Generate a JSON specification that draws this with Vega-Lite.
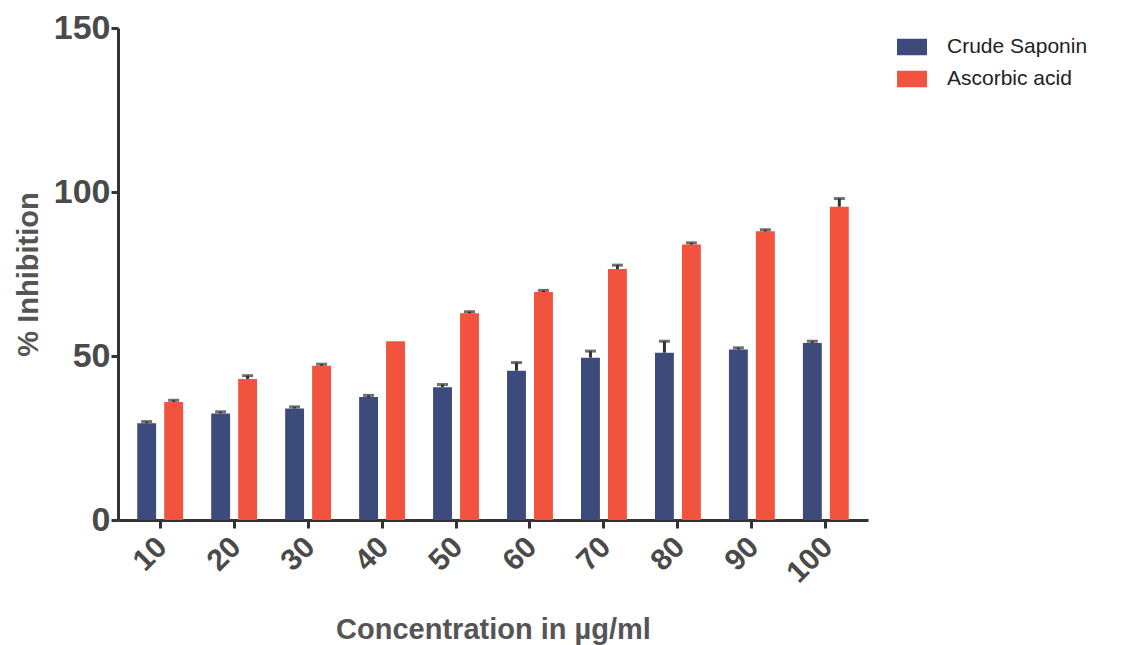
{
  "$schema": "https://vega.github.io/schema/vega-lite/v6.json",
  "width": 750,
  "height": 492,
  "autosize": "none",
  "padding": {"left": 118, "top": 28, "right": 254, "bottom": 125},
  "background": "white",
  "data": {
    "values": [
      {"conc": "10", "group": "Crude Saponin", "value": 29.5, "upper": 30.0},
      {"conc": "10", "group": "Ascorbic acid", "value": 36.0, "upper": 36.5},
      {"conc": "20", "group": "Crude Saponin", "value": 32.5, "upper": 33.0},
      {"conc": "20", "group": "Ascorbic acid", "value": 43.0, "upper": 44.0},
      {"conc": "30", "group": "Crude Saponin", "value": 34.0, "upper": 34.5},
      {"conc": "30", "group": "Ascorbic acid", "value": 47.0, "upper": 47.5},
      {"conc": "40", "group": "Crude Saponin", "value": 37.5, "upper": 38.0},
      {"conc": "40", "group": "Ascorbic acid", "value": 54.5, "upper": null},
      {"conc": "50", "group": "Crude Saponin", "value": 40.5, "upper": 41.3},
      {"conc": "50", "group": "Ascorbic acid", "value": 63.0, "upper": 63.5},
      {"conc": "60", "group": "Crude Saponin", "value": 45.5, "upper": 48.0},
      {"conc": "60", "group": "Ascorbic acid", "value": 69.5, "upper": 70.0},
      {"conc": "70", "group": "Crude Saponin", "value": 49.5, "upper": 51.5},
      {"conc": "70", "group": "Ascorbic acid", "value": 76.5, "upper": 77.7},
      {"conc": "80", "group": "Crude Saponin", "value": 51.0, "upper": 54.5},
      {"conc": "80", "group": "Ascorbic acid", "value": 84.0, "upper": 84.5},
      {"conc": "90", "group": "Crude Saponin", "value": 52.0, "upper": 52.5},
      {"conc": "90", "group": "Ascorbic acid", "value": 88.0, "upper": 88.5},
      {"conc": "100", "group": "Crude Saponin", "value": 54.0, "upper": 54.5},
      {"conc": "100", "group": "Ascorbic acid", "value": 95.5, "upper": 98.0}
    ]
  },
  "encoding": {
    "x": {
      "field": "conc",
      "type": "ordinal",
      "sort": ["10", "20", "30", "40", "50", "60", "70", "80", "90", "100"],
      "scale": {"paddingInner": 0.38, "paddingOuter": 0.26},
      "axis": {
        "title": "Concentration in µg/ml",
        "titleFont": "Liberation Sans",
        "titleFontSize": 29,
        "titleFontWeight": "bold",
        "titleColor": "#555555",
        "titlePadding": 28,
        "labelFont": "Liberation Sans",
        "labelFontSize": 30,
        "labelFontWeight": "bold",
        "labelColor": "#4a4a4a",
        "labelAngle": -45,
        "labelAlign": "right",
        "labelBaseline": "middle",
        "labelPadding": 14,
        "labelOffset": 2,
        "domainColor": "#333333",
        "domainWidth": 3,
        "tickColor": "#333333",
        "tickWidth": 3,
        "tickSize": 8,
        "grid": false
      }
    },
    "xOffset": {
      "field": "group",
      "type": "nominal",
      "sort": ["Crude Saponin", "Ascorbic acid"],
      "scale": {"paddingInner": 0.3, "paddingOuter": 0}
    }
  },
  "layer": [
    {
      "mark": {"type": "bar", "cornerRadius": 0},
      "encoding": {
        "y": {
          "field": "value",
          "type": "quantitative",
          "scale": {"domain": [0, 150], "nice": false},
          "axis": {
            "title": "% Inhibition",
            "titleFont": "Liberation Sans",
            "titleFontSize": 29,
            "titleFontWeight": "bold",
            "titleColor": "#555555",
            "titlePadding": 10,
            "values": [0, 50, 100, 150],
            "labelFont": "Liberation Sans",
            "labelFontSize": 34,
            "labelFontWeight": "bold",
            "labelColor": "#4a4a4a",
            "labelPadding": 1,
            "domainColor": "#333333",
            "domainWidth": 3,
            "tickColor": "#333333",
            "tickWidth": 3,
            "tickSize": 7,
            "grid": false
          }
        },
        "color": {
          "field": "group",
          "type": "nominal",
          "scale": {
            "domain": ["Crude Saponin", "Ascorbic acid"],
            "range": ["#3c4a7c", "#f2533f"]
          },
          "legend": {
            "title": null,
            "orient": "none",
            "legendX": 779,
            "legendY": 4,
            "symbolType": "M-1,-0.55H1V0.55H-1Z",
            "symbolSize": 900,
            "symbolStrokeWidth": 0,
            "labelFont": "Liberation Sans",
            "labelFontSize": 21,
            "labelColor": "#222222",
            "labelOffset": 20,
            "rowPadding": 7
          }
        }
      }
    },
    {
      "mark": {"type": "rule", "color": "#333333", "strokeWidth": 3},
      "encoding": {
        "y": {"field": "value", "type": "quantitative"},
        "y2": {"field": "upper"}
      }
    },
    {
      "mark": {"type": "tick", "color": "#333333", "thickness": 3, "size": 11},
      "encoding": {
        "y": {"field": "upper", "type": "quantitative"}
      }
    }
  ],
  "config": {
    "view": {"stroke": null}
  }
}
